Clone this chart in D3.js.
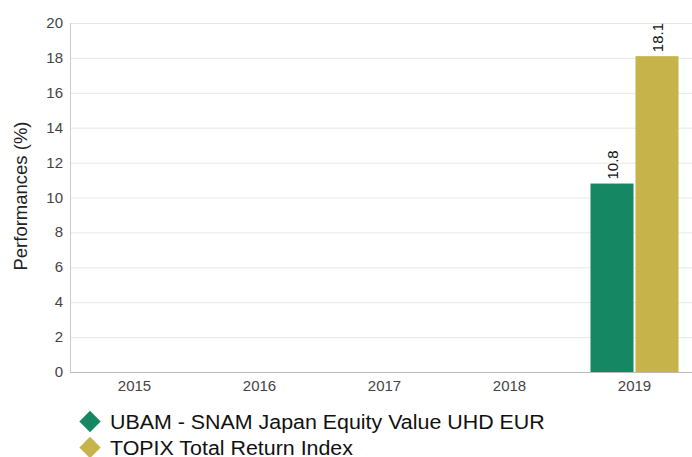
<!DOCTYPE html>
<html>
<head>
<meta charset="utf-8">
<script src="https://cdn.jsdelivr.net/npm/d3@7"></script>
<style>
  body { margin: 0; background: #fff; }
  svg { font-family: 'Liberation Sans', Arial, sans-serif; }
</style>
</head>
<body>
<div id="chart"></div>
<script>
// data
let years = ['2015', '2016', '2017', '2018', '2019']
let seriesNames = ['UBAM - SNAM Japan Equity Value UHD EUR', 'TOPIX Total Return Index']
let seriesColors = ['#168763', '#c6b34a']
let fundValues = [null, null, null, null, 10.8]
let indexValues = [null, null, null, null, 18.1]
let yTicks = [0, 2, 4, 6, 8, 10, 12, 14, 16, 18, 20]

let width = 692, height = 457

let svg = d3.select('#chart')
.append('svg')
.attr('width', width)
.attr('height', height)

let x = d3.scaleBand()
.domain(years)
.range([72, 697])

let y = d3.scaleLinear()
.domain([0, 20])
.range([372, 23])

let sub = d3.scaleBand()
.domain([0, 1])
.range([0, 88])

// grid
svg.append('g')
.selectAll('line')
.data(yTicks.filter(d => d > 0))
.join('line')
.attr('x1', 70)
.attr('x2', width)
.attr('y1', d => y(d) + 0.5)
.attr('y2', d => y(d) + 0.5)
.style('stroke', '#e6e6e6')

// y axis labels
svg.append('g')
.selectAll('text')
.data(yTicks)
.join('text')
.attr('x', 63)
.attr('y', d => y(d) + 5)
.attr('text-anchor', 'end')
.style('font-size', '15px')
.style('fill', '#444')
.text(d => d)

svg.append('text')
.attr('transform', `translate(27, 196) rotate(-90)`)
.attr('text-anchor', 'middle')
.style('font-size', '18.5px')
.style('fill', '#222')
.text('Performances (%)')

// bars
let series = [fundValues, indexValues]

series.forEach((vals, i) => {
    let data = years.map((yr, j) => ({ year: yr, value: vals[j] })).filter(d => d.value != null)
    let left = d => x(d.year) + x.bandwidth() / 2 - 44 + sub(i) + (i == 1 ? 1 : 0)

    svg.append('g')
    .selectAll('rect')
    .data(data)
    .join('rect')
    .attr('x', left)
    .attr('width', 43)
    .attr('y', d => y(d.value))
    .attr('height', d => y(0) - y(d.value))
    .style('fill', seriesColors[i])

    svg.append('g')
    .selectAll('text')
    .data(data)
    .join('text')
    .attr('transform', d => `translate(${left(d) + 27}, ${y(d.value) - 4}) rotate(-90)`)
    .style('font-size', '15px')
    .style('fill', '#111')
    .text(d => d.value.toFixed(1))
})

// axes lines
svg.append('line')
.attr('x1', 70.5)
.attr('x2', 70.5)
.attr('y1', 23)
.attr('y2', 372)
.style('stroke', '#ccc')

svg.append('line')
.attr('x1', 70)
.attr('x2', width)
.attr('y1', 372.5)
.attr('y2', 372.5)
.style('stroke', '#bbb')

svg.append('g')
.selectAll('text')
.data(years)
.join('text')
.attr('x', d => x(d) + x.bandwidth() / 2)
.attr('y', 391)
.attr('text-anchor', 'middle')
.style('font-size', '15px')
.style('fill', '#444')
.text(d => d)

// legend
let legend = svg.append('g')
.selectAll('g')
.data(seriesNames)
.join('g')
.attr('transform', (d, i) => `translate(90, ${421.5 + i * 26})`)

legend.append('path')
.attr('d', d3.symbol().type(d3.symbolDiamond2).size(290))
.style('fill', (d, i) => seriesColors[i])

legend.append('text')
.attr('transform', 'translate(20, 7) scale(1.07, 1)')
.style('font-size', '20px')
.style('fill', '#111')
.text(d => d)
</script>
</body>
</html>
